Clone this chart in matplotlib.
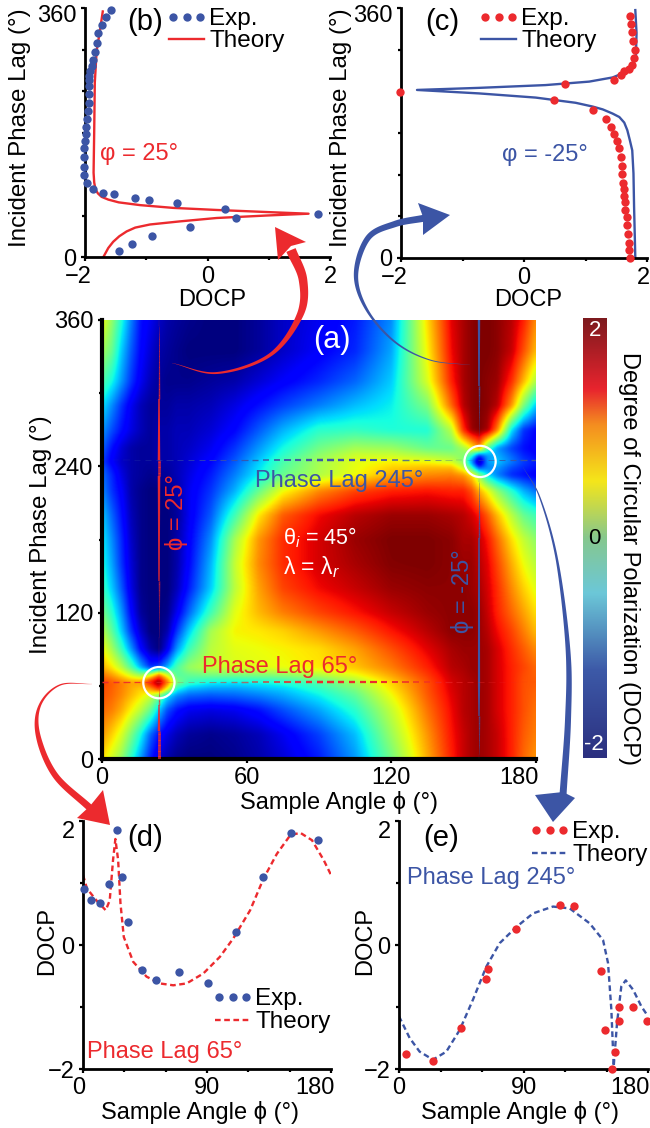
import numpy as np
import matplotlib
matplotlib.use("Agg")
import matplotlib.pyplot as plt
from matplotlib.collections import LineCollection
from matplotlib.colors import LinearSegmentedColormap
from matplotlib.legend_handler import HandlerLine2D
from matplotlib.patches import Polygon
from matplotlib.transforms import ScaledTranslation

plt.rcParams['font.family'] = ['Liberation Sans', 'DejaVu Sans']
plt.rcParams['mathtext.fontset'] = 'custom'
plt.rcParams['mathtext.rm'] = 'Liberation Sans'
plt.rcParams['mathtext.it'] = 'Liberation Sans:italic'
plt.rcParams['axes.unicode_minus'] = True

W, H = 650, 1128
RED = '#ec2a2e'
BLUE = '#3c55a5'

# ---------- data ----------
b_exp_docp = [-1.58,-1.66,-1.73,-1.78,-1.81,-1.84,-1.87,-1.89,-1.92,-1.93,-1.93,-1.93,-1.93,-1.94,-1.95,-1.96,-1.98,-1.99,-2.0,-2.01,-2.01,-2.01,-2.01,-1.97,-1.87,-1.70,-1.53,-1.18,-0.96,-0.50,0.28,1.80,0.46,-0.29,-0.91,-1.24,-1.45]
b_exp_lag = [357,347,336,324,310,297,285,276,269,262,256,247,236,223,211,199,188,178,167,157,145,130,118,107,98,93,91,85,83,78,69,62.6,57,44,31,19,8]
b_th_docp = [-1.71,-1.76,-1.81,-1.84,-1.85,-1.86,-1.85,-1.83,-1.79,-1.73,-1.62,-1.45,-1.10,-0.56,0.15,0.97,1.65,0.97,0.15,-0.45,-0.94,-1.18,-1.32,-1.44,-1.54,-1.62,-1.70]
b_th_lag = [355,325,298,252,180,122,108,98,92,87,83,79,75,71,68,65,62.6,60,56.4,51.5,47,42.5,37,30,22,13,0]

c_exp_docp = [1.73,1.74,1.76,1.78,1.80,1.79,1.76,1.70,1.63,1.57,1.47,0.67,-2.02,0.48,1.13,1.34,1.42,1.47,1.51,1.54,1.57,1.59,1.60,1.61,1.62,1.63,1.65,1.65,1.67,1.68,1.69,1.70,1.71,1.72]
c_exp_lag = [349,337,326,313,300,288,278,272,270,263,257,250,239,227,213,200,189,179,169,158,146,133,121,108,99,90,81,69,59,47,35,22,11,0]
c_th_docp = [1.81,1.83,1.82,1.78,1.71,1.58,1.44,1.06,0.35,-0.73,-1.74,-0.73,0.19,0.84,1.12,1.28,1.44,1.55,1.63,1.68,1.72,1.76,1.78,1.79,1.81]
c_th_lag = [357,324,290,280,273,265,260,254,249,245,242,237,231,223.5,218,214,208,203,195,184,170,155,122,73,0]

d_exp_phi = [0.5,5.8,12.6,18.7,24.5,28.6,32.8,42.7,52.7,69.6,90.7,111,130.8,150.7,170.8]
d_exp_docp = [0.91,0.73,0.67,0.98,1.85,1.10,0.37,-0.41,-0.56,-0.43,-0.62,0.21,1.09,1.81,1.70]
d_th_phi = [0,2.9,9.7,16.5,19.4,21.8,23.5,25.5,27.2,29.6,36.4,46.1,55.8,65.5,75.2,87.3,99.4,109.2,121.3,131,140.7,150.4,157.7,166.2,174.7,180]
d_th_docp = [1.13,0.91,0.72,0.56,0.72,1.37,1.71,1.37,0.67,0.13,-0.27,-0.51,-0.62,-0.65,-0.62,-0.46,-0.19,0.11,0.56,1.07,1.47,1.77,1.81,1.69,1.37,1.13]

e_exp_phi = [5.1,24.8,44.8,62.7,64.6,84.6,116.4,126.3,146,149.1,154.2,155.9,159.3,159.3,169.2,179]
e_exp_docp = [-1.75,-1.87,-1.34,-0.55,-0.38,0.26,0.65,0.63,-0.42,-1.37,-2.0,-1.72,-1.22,-1.0,-1.0,-1.23]
e_th_phi = [0,7.7,14.9,24.6,34.2,43.9,53.5,63.1,72.8,84.8,96.9,111.3,123.4,137.8,147.5,151.1,153.5,155.2,157.6,160.7,163.9,169.2,175.2,180]
e_th_docp = [-1.15,-1.5,-1.72,-1.85,-1.72,-1.37,-0.88,-0.35,0.03,0.29,0.51,0.62,0.59,0.35,0.08,-0.29,-1.04,-1.96,-1.26,-0.67,-0.57,-0.72,-0.99,-1.15]

map_phi = [0,4,8,12,16,20,23.5,27,31,36,45,55,65,75,90,105,120,135,145,150,153.5,156.5,160,164,170,175,180]
map_lag = [0,20,40,52,57,63,69,75,90,105,120,140,160,180,200,220,233,239,244,249,255,270,290,310,335,360]
map_docp = [
 [0.7,0.4,0.1,-0.4,-0.9,-1.4,-1.7,-1.85,-1.95,-2.0,-2.0,-1.95,-1.85,-1.7,-1.4,-0.9,-0.05,0.9,1.5,1.75,1.85,1.9,1.85,1.75,1.5,1.2,1.0],
 [1.0,0.75,0.45,0.0,-0.5,-1.1,-1.45,-1.65,-1.8,-1.9,-1.95,-1.9,-1.8,-1.6,-1.25,-0.75,0.15,1.0,1.55,1.75,1.85,1.9,1.85,1.75,1.5,1.25,1.1],
 [1.2,1.1,0.9,0.6,0.3,-0.1,-0.7,-1.2,-1.45,-1.6,-1.65,-1.6,-1.45,-1.2,-0.85,-0.4,0.35,1.15,1.6,1.8,1.85,1.9,1.85,1.7,1.5,1.3,1.15],
 [1.3,1.2,1.05,0.85,0.65,0.4,0.0,-0.6,-0.95,-1.1,-1.15,-1.1,-1.0,-0.85,-0.55,-0.15,0.55,1.25,1.65,1.8,1.85,1.9,1.85,1.7,1.5,1.3,1.2],
 [1.32,1.22,1.08,0.9,0.75,0.95,1.4,0.5,-0.5,-0.8,-0.9,-0.9,-0.8,-0.7,-0.4,0.0,0.65,1.28,1.68,1.8,1.85,1.9,1.85,1.7,1.5,1.3,1.22],
 [1.35,1.25,1.1,0.95,1.0,1.6,2.0,1.2,0.05,-0.3,-0.5,-0.55,-0.5,-0.4,-0.2,0.2,0.75,1.3,1.7,1.8,1.85,1.9,1.85,1.7,1.5,1.3,1.25],
 [1.15,0.95,0.7,0.4,0.1,0.4,1.1,0.4,-0.2,-0.1,0.0,0.0,0.05,0.1,0.3,0.55,0.95,1.4,1.75,1.82,1.88,1.9,1.85,1.7,1.5,1.32,1.22],
 [0.9,0.65,0.3,-0.2,-0.8,-1.3,-1.2,-0.8,-0.2,0.15,0.35,0.45,0.5,0.55,0.65,0.8,1.1,1.5,1.8,1.85,1.9,1.9,1.85,1.7,1.5,1.35,1.2],
 [0.6,0.2,-0.3,-0.9,-1.5,-1.85,-2.0,-1.6,-0.9,-0.3,0.3,0.5,0.55,0.6,0.7,0.95,1.3,1.65,1.85,1.9,1.9,1.9,1.85,1.7,1.45,1.25,1.05],
 [0.3,-0.15,-0.7,-1.3,-1.75,-2.0,-2.0,-1.85,-1.3,-0.7,0.2,0.6,0.65,0.75,1.0,1.25,1.55,1.8,1.95,1.95,1.95,1.9,1.8,1.6,1.35,1.1,0.85],
 [0.0,-0.4,-0.9,-1.5,-1.9,-2.0,-2.0,-1.95,-1.6,-1.1,-0.3,0.5,0.85,1.1,1.35,1.55,1.75,1.9,1.95,1.95,1.95,1.9,1.75,1.5,1.2,0.95,0.7],
 [-0.3,-0.7,-1.15,-1.65,-1.95,-2.0,-2.0,-2.0,-1.8,-1.4,-0.7,0.3,0.95,1.35,1.6,1.75,1.9,1.95,1.95,1.95,1.9,1.85,1.7,1.45,1.05,0.75,0.5],
 [-0.45,-0.85,-1.3,-1.7,-1.95,-2.0,-2.0,-2.0,-1.85,-1.5,-0.8,0.35,1.05,1.45,1.7,1.85,1.98,2.0,1.95,1.9,1.9,1.8,1.65,1.35,0.9,0.55,0.3],
 [-0.55,-0.95,-1.35,-1.75,-1.95,-2.0,-2.0,-2.0,-1.85,-1.55,-0.95,0.2,1.0,1.45,1.7,1.9,2.0,2.0,1.95,1.85,1.85,1.75,1.55,1.2,0.7,0.35,0.1],
 [-0.7,-1.1,-1.45,-1.8,-1.95,-2.0,-2.0,-2.0,-1.9,-1.6,-1.15,-0.3,0.65,1.25,1.6,1.8,1.9,1.9,1.85,1.8,1.7,1.55,1.25,0.85,0.3,-0.1,-0.3],
 [-0.95,-1.3,-1.55,-1.85,-1.95,-2.0,-2.0,-1.95,-1.85,-1.6,-1.3,-0.8,-0.1,0.55,1.05,1.35,1.5,1.55,1.5,1.5,1.3,0.9,0.55,0.1,-0.4,-0.8,-1.05],
 [-1.05,-1.35,-1.65,-1.85,-1.9,-1.95,-1.9,-1.9,-1.8,-1.65,-1.4,-1.0,-0.55,-0.1,0.25,0.55,0.9,1.05,1.1,1.0,0.7,0.1,-0.6,-1.0,-1.35,-1.45,-1.55],
 [-1.12,-1.45,-1.7,-1.85,-1.9,-1.92,-1.88,-1.88,-1.8,-1.68,-1.45,-1.08,-0.62,-0.18,0.22,0.52,0.75,0.85,0.85,0.4,-0.4,-1.2,-1.0,-0.9,-1.2,-1.35,-1.45],
 [-1.25,-1.55,-1.75,-1.85,-1.9,-1.9,-1.85,-1.85,-1.8,-1.7,-1.5,-1.15,-0.7,-0.25,0.2,0.5,0.6,0.55,0.4,0.05,-1.0,-2.0,-0.9,-0.7,-1.0,-1.25,-1.4],
 [-1.18,-1.52,-1.72,-1.85,-1.9,-1.9,-1.85,-1.85,-1.8,-1.72,-1.55,-1.22,-0.8,-0.38,0.1,0.4,0.4,0.25,0.15,0.05,-0.4,-1.3,-0.9,-0.8,-1.1,-1.35,-1.48],
 [-1.1,-1.45,-1.7,-1.85,-1.9,-1.9,-1.85,-1.85,-1.8,-1.75,-1.6,-1.3,-0.9,-0.5,-0.05,0.2,0.15,-0.1,-0.1,0.2,0.6,1.0,-0.2,-0.9,-1.25,-1.45,-1.55],
 [-0.9,-1.2,-1.45,-1.65,-1.8,-1.9,-1.85,-1.85,-1.8,-1.8,-1.7,-1.5,-1.15,-0.8,-0.4,-0.35,-0.45,-0.45,0.3,1.45,1.9,2.0,1.85,1.1,-0.6,-1.3,-1.5],
 [-0.6,-0.95,-1.3,-1.6,-1.8,-1.9,-1.9,-1.9,-1.85,-1.85,-1.8,-1.65,-1.45,-1.25,-1.0,-0.75,-0.55,0.0,1.2,1.8,1.95,2.0,1.95,1.8,1.0,0.0,-0.7],
 [-0.2,-0.5,-0.9,-1.3,-1.6,-1.8,-1.9,-1.95,-1.95,-1.95,-1.9,-1.85,-1.7,-1.55,-1.35,-1.1,-0.7,0.45,1.5,1.85,1.95,2.0,1.95,1.9,1.45,0.85,0.25],
 [0.2,-0.1,-0.7,-1.15,-1.5,-1.7,-1.85,-1.9,-1.95,-2.0,-2.0,-2.0,-1.9,-1.75,-1.55,-1.35,-0.85,0.6,1.6,1.85,1.95,2.0,2.0,1.95,1.75,1.3,0.85],
 [0.55,0.1,-0.45,-1.0,-1.45,-1.6,-1.75,-1.85,-1.9,-1.95,-2.0,-2.0,-1.9,-1.75,-1.6,-1.4,-0.95,0.7,1.65,1.85,1.95,2.0,2.0,1.95,1.8,1.5,1.05],
]

colorbar_stops = [(0.0,'#2b2f7f'),(0.2,'#3d5aa8'),(0.375,'#6cc8d8'),(0.5,'#86c78e'),(0.63,'#f5e61a'),(0.76,'#f48c20'),(0.84,'#e8242e'),(1.0,'#7d1a1e')]

x_ticks_map = [0, 60, 120, 180]
y_ticks_lag = [0, 120, 240, 360]
y_minor_lag = [60, 180, 300]

# ---------- helpers ----------
fig = plt.figure(figsize=(W/100, H/100), dpi=100, facecolor='white')

def axes_px(l, t, r, b):
    return fig.add_axes([l/W, 1-b/H, (r-l)/W, (b-t)/H])

over = fig.add_axes([0, 0, 1, 1], zorder=20)
over.set_xlim(0, W); over.set_ylim(H, 0); over.axis('off'); over.patch.set_alpha(0)

def shift(label, dx, dy):
    label.set_transform(label.get_transform() + ScaledTranslation(dx/100, -dy/100, fig.dpi_scale_trans))

def style(ax, xlab, ylab, xlab_xy, ylab_xy, fs=17, yfs=17):
    for s in ('top', 'right'):
        ax.spines[s].set_visible(False)
    for s in ('left', 'bottom'):
        ax.spines[s].set_linewidth(2.0)
    ax.tick_params(which='major', length=3, width=1.6, pad=3, labelsize=fs)
    ax.tick_params(which='minor', length=2, width=1.6)
    ax.set_xlabel(xlab, fontsize=fs)
    ax.set_ylabel(ylab, fontsize=yfs)
    ax.xaxis.set_label_coords(xlab_xy[0]/W, 1-xlab_xy[1]/H, transform=fig.transFigure)
    ax.yaxis.set_label_coords(ylab_xy[0]/W, 1-ylab_xy[1]/H, transform=fig.transFigure)
    ax.xaxis.label.set_va('center'); ax.yaxis.label.set_va('center')

def legend(ax, x, y, spacing):
    h, l = ax.get_legend_handles_labels()
    th, ex = h[0], h[1]
    ax.legend([ex, th], [l[1], l[0]], loc='upper left', bbox_to_anchor=(x, y), bbox_transform=over.transData,
              frameon=False, fontsize=17.5, handlelength=1.45, handletextpad=0.2,
              borderpad=0, borderaxespad=0, labelspacing=spacing,
              handler_map={ex: HandlerLine2D(marker_pad=0.16, numpoints=3),
                           th: HandlerLine2D(marker_pad=0.0, numpoints=2)})

def tapered(ax, xs, ys, color, key, key_param, widths, alphas=None):
    xs = np.asarray(xs, float); ys = np.asarray(ys, float); p = np.asarray(key_param, float)
    lw = np.interp(p, key, widths) * 0.72
    rgba = np.tile(matplotlib.colors.to_rgba(color), (len(xs)-1, 1))
    if alphas is not None:
        rgba[:, 3] = np.interp(p[:-1], key, alphas)
    seg = np.stack([np.column_stack([xs[:-1], ys[:-1]]), np.column_stack([xs[1:], ys[1:]])], axis=1)
    ax.add_collection(LineCollection(seg, colors=rgba, linewidths=lw[:-1], capstyle='butt', zorder=3))

def dashed(ax, lag, color, key, widths, alphas):
    starts = np.arange(0, 180, 4.45)
    for s in starts:
        mid = s + 1.3
        w = np.interp(mid, key, widths) * 0.72
        a = np.interp(mid, key, alphas)
        ax.plot([s, s+2.6], [lag, lag], color=color, lw=w, alpha=a, solid_capstyle='butt', zorder=3)

def catmull(pts, n=30):
    p = np.asarray(pts, float)
    p = np.vstack([2*p[0]-p[1], p, 2*p[-1]-p[-2]])
    out = []
    for i in range(1, len(p)-2):
        t = np.linspace(0, 1, n, endpoint=False)[:, None]
        out.append(0.5*((2*p[i]) + (-p[i-1]+p[i+1])*t + (2*p[i-1]-5*p[i]+4*p[i+1]-p[i+2])*t**2 + (-p[i-1]+3*p[i]-3*p[i+1]+p[i+2])*t**3))
    out.append(p[-2][None, :])
    return np.vstack(out)

def arrow(pts, color, wmax, head):
    c = catmull(pts)
    d = np.gradient(c, axis=0)
    nrm = np.column_stack([-d[:, 1], d[:, 0]]) / np.hypot(d[:, 0], d[:, 1])[:, None]
    u = np.linspace(0, 1, len(c))
    w = np.interp(u, [0, 0.2, 0.4, 0.65, 1], [0.15, 0.2*wmax, 0.35*wmax, 0.75*wmax, wmax]) / 2
    poly = np.vstack([c + nrm*w[:, None], (c - nrm*w[:, None])[::-1]])
    over.add_patch(Polygon(poly, closed=True, fc=color, ec='none'))
    over.add_patch(Polygon(head, closed=True, fc=color, ec='none'))

# ---------- panel (a) ----------
ax_a = axes_px(102, 320, 536, 759)
phi_f = np.linspace(0, 180, 721)
lag_f = np.linspace(0, 360, 721)
M = np.array(map_docp, float)
M1 = np.array([np.interp(phi_f, map_phi, row) for row in M])
M2 = np.array([np.interp(lag_f, map_lag, col) for col in M1.T]).T
def box(A, n, axis):
    k = np.ones(n)/n
    pad = n//2
    widths = [(0, 0), (0, 0)]; widths[axis] = (pad, pad)
    B = np.pad(A, widths, mode='edge')
    return np.apply_along_axis(lambda v: np.convolve(v, k, mode='valid'), axis, B)
for _ in range(2):
    M2 = box(box(M2, 5, 1), 7, 0)
ax_a.imshow(M2, origin='lower', extent=[0, 180, 0, 360], aspect='auto', cmap='jet', vmin=-2, vmax=2,
            interpolation='bilinear', zorder=1)
lag_line = np.linspace(0, 360, 361)
tapered(ax_a, np.full(361, 23.5), lag_line, RED, [0, 20, 50, 60, 95, 150, 240, 300, 345, 360],
        lag_line, [3, 2.6, 1.2, 0.4, 0.4, 1.6, 2.6, 1.4, 0.8, 0.3], [1, 1, .8, .3, .25, .85, 1, .95, .7, .2])
tapered(ax_a, np.full(361, 156.5), lag_line, BLUE, [0, 10, 60, 130, 190, 225, 232, 258, 300, 360],
        lag_line, [0.3, 0.8, 2.2, 2.0, 1.4, 0.6, 0.2, 0.3, 1.4, 2.4], [.2, .7, 1, 1, .95, .6, .2, .2, .95, 1])
dashed(ax_a, 63, RED, [0, 15, 30, 45, 90, 115, 150, 180], [1.5, 1.2, .5, 1, 2.5, 2.2, 1, .3], [1, .9, .3, .5, 1, 1, .5, .1])
dashed(ax_a, 245, BLUE, [5, 30, 60, 90, 110, 140, 150, 165, 180], [.4, .8, 1.2, 2.5, 2.2, .8, .4, 1, 1.4], [.2, .6, .9, 1, 1, .6, .3, .8, 1])
ax_a.scatter([23.6, 156.8], [62.6, 244], s=22.5**2, facecolors='none', edgecolors='white', linewidths=1.6, zorder=4)
ax_a.set_xlim(0, 180); ax_a.set_ylim(0, 360)
ax_a.set_xticks(x_ticks_map); ax_a.set_yticks(y_ticks_lag); ax_a.set_yticks(y_minor_lag, minor=True)
style(ax_a, 'Sample Angle ϕ (°)', 'Incident Phase Lag (°)', (339, 803), (41, 535), yfs=17.4)
ax_a.spines['left'].set_linewidth(3); ax_a.spines['bottom'].set_linewidth(3)
shift(ax_a.get_xticklabels()[-1], -17, 0)

over.text(332, 340, '(a)', color='white', fontsize=22, ha='center', va='center')
over.text(255, 481, 'Phase Lag 245°', color=BLUE, fontsize=17, ha='left', va='center')
over.text(202, 667, 'Phase Lag 65°', color=RED, fontsize=17, ha='left', va='center')
over.text(283, 538, 'θ$_{i}$ = 45°', color='white', fontsize=15.5, ha='left', va='center')
over.text(283, 567, 'λ = λ$_{r}$', color='white', fontsize=16.5, ha='left', va='center')
over.text(176, 512, 'ϕ = 25°', color=RED, fontsize=17, rotation=90, ha='center', va='center')
over.text(463, 591, 'ϕ = -25°', color=BLUE, fontsize=17, rotation=90, ha='center', va='center')

# ---------- colour bar ----------
ax_c = axes_px(583, 318, 607, 758)
cb_map = LinearSegmentedColormap.from_list('cb', colorbar_stops)
ax_c.imshow(np.linspace(-2, 2, 256)[:, None], origin='lower', extent=[0, 1, -2, 2], aspect='auto', cmap=cb_map)
ax_c.set_xticks([]); ax_c.set_yticks([])
for s in ax_c.spines.values():
    s.set_visible(False)
over.text(595, 330, '2', color='white', fontsize=16, ha='center', va='center')
over.text(594, 539, '0', color='black', fontsize=16, ha='center', va='center')
over.text(594, 745, '-2', color='white', fontsize=16, ha='center', va='center')
over.text(629, 559, 'Degree of Circular Polarization (DOCP)', color='black', fontsize=17, rotation=270, ha='center', va='center')

# ---------- panel (b) ----------
ax_b = axes_px(85, 8, 330, 257)
ax_b.plot(b_th_docp, b_th_lag, color=RED, lw=1.7, label='Theory', zorder=2)
ax_b.plot(b_exp_docp, b_exp_lag, 'o', color=BLUE, ms=6.0, mew=0, clip_on=False, label='Exp.', zorder=3)
ax_b.set_xlim(-2, 2); ax_b.set_ylim(0, 360)
ax_b.set_xticks([-2, 0, 2]); ax_b.set_xticks([-1, 1], minor=True)
ax_b.set_yticks([0, 360]); ax_b.set_yticks([60, 120, 180, 240, 300], minor=True)
style(ax_b, 'DOCP', 'Incident Phase Lag (°)', (212, 300), (20, 128), yfs=17.4)
shift(ax_b.get_xticklabels()[0], -7, 1)
shift(ax_b.get_xticklabels()[1], 0, 1)
shift(ax_b.get_xticklabels()[2], 0, 1)
shift(ax_b.get_yticklabels()[-1], 0, 5)
legend(ax_b, 169, 8, 0.0)
over.text(100, 154, 'φ = 25°', color=RED, fontsize=17, ha='left', va='center')
over.text(127, 22, '(b)', color='black', fontsize=21, ha='left', va='center')

# ---------- panel (c) ----------
ax_cc = axes_px(401, 8, 647, 258)
ax_cc.plot(c_th_docp, c_th_lag, color=BLUE, lw=1.7, label='Theory', zorder=2)
ax_cc.plot(c_exp_docp, c_exp_lag, 'o', color=RED, ms=6.0, mew=0, clip_on=False, label='Exp.', zorder=3)
ax_cc.set_xlim(-2, 2); ax_cc.set_ylim(0, 360)
ax_cc.set_xticks([-2, 0, 2]); ax_cc.set_xticks([-1, 1], minor=True)
ax_cc.set_yticks([0, 360]); ax_cc.set_yticks([60, 120, 180, 240, 300], minor=True)
style(ax_cc, 'DOCP', 'Incident Phase Lag (°)', (528, 300), (341, 128), yfs=17.4)
shift(ax_cc.get_xticklabels()[0], -7, 1)
shift(ax_cc.get_xticklabels()[1], 0, 1)
shift(ax_cc.get_xticklabels()[-1], -4, 1)
shift(ax_cc.get_yticklabels()[-1], 0, 5)
legend(ax_cc, 481, 8, 0.0)
over.text(502, 155, 'φ = -25°', color=BLUE, fontsize=17, ha='left', va='center')
over.text(425, 22, '(c)', color='black', fontsize=21, ha='left', va='center')

# ---------- panel (d) ----------
DASH = (0, (2.4, 1.5))
ax_d = axes_px(83, 821, 331, 1069)
ax_d.plot(d_th_phi, d_th_docp, color=RED, lw=1.7, ls=DASH, label='Theory', zorder=2)
ax_d.plot(d_exp_phi, d_exp_docp, 'o', color=BLUE, ms=6.0, mew=0, clip_on=False, label='Exp.', zorder=3)
ax_d.set_xlim(0, 180); ax_d.set_ylim(-2, 2)
ax_d.set_xticks([0, 90, 180]); ax_d.set_xticks([30, 60, 120, 150], minor=True)
ax_d.set_yticks([-2, 0, 2]); ax_d.set_yticks([-1, 1], minor=True)
style(ax_d, 'Sample Angle ϕ (°)', 'DOCP', (200, 1112), (47, 941))
shift(ax_d.get_xticklabels()[0], -4, 0)
shift(ax_d.get_xticklabels()[-1], -16, 0)
shift(ax_d.get_yticklabels()[-1], 0, 9)
legend(ax_d, 215, 988, 0.05)
over.text(87, 1052, 'Phase Lag 65°', color=RED, fontsize=17, ha='left', va='center')
over.text(127, 838, '(d)', color='black', fontsize=21, ha='left', va='center')

# ---------- panel (e) ----------
ax_e = axes_px(399, 821, 648, 1069)
ax_e.plot(e_th_phi, e_th_docp, color=BLUE, lw=1.7, ls=DASH, label='Theory', zorder=2)
ax_e.plot(e_exp_phi, e_exp_docp, 'o', color=RED, ms=6.0, mew=0, clip_on=False, label='Exp.', zorder=3)
ax_e.set_xlim(0, 180); ax_e.set_ylim(-2, 2)
ax_e.set_xticks([0, 90, 180]); ax_e.set_xticks([30, 60, 120, 150], minor=True)
ax_e.set_yticks([-2, 0, 2]); ax_e.set_yticks([-1, 1], minor=True)
style(ax_e, 'Sample Angle ϕ (°)', 'DOCP', (520, 1112), (365, 941))
shift(ax_e.get_xticklabels()[-1], -18, 0)
shift(ax_e.get_yticklabels()[-1], 0, 9)
legend(ax_e, 532, 821, 0.05)
over.text(407, 878, 'Phase Lag 245°', color=BLUE, fontsize=17, ha='left', va='center')
over.text(423, 838, '(e)', color='black', fontsize=21, ha='left', va='center')

# ---------- arrows ----------
arrow([(172, 363), (217, 373), (270, 355), (300, 315), (303, 280), (291, 250)], RED, 10,
      [(275, 227), (306, 242), (291, 246), (278, 260)])
arrow([(470, 365), (430, 360), (395, 342), (367, 310), (356, 275), (368, 238), (395, 224), (425, 218)], BLUE, 7,
      [(450, 215), (418, 203), (423, 217), (423, 235)])
arrow([(92, 684), (60, 685), (40, 705), (38, 735), (55, 775), (90, 808)], RED, 7,
      [(110, 825), (77, 818), (90, 806), (103, 790)])
arrow([(523, 467), (540, 498), (557, 560), (568, 650), (568, 720), (563, 795)], BLUE, 7,
      [(553, 822), (535, 795), (563, 792), (575, 798)])

fig.savefig('out.png', dpi=100, facecolor='white')
